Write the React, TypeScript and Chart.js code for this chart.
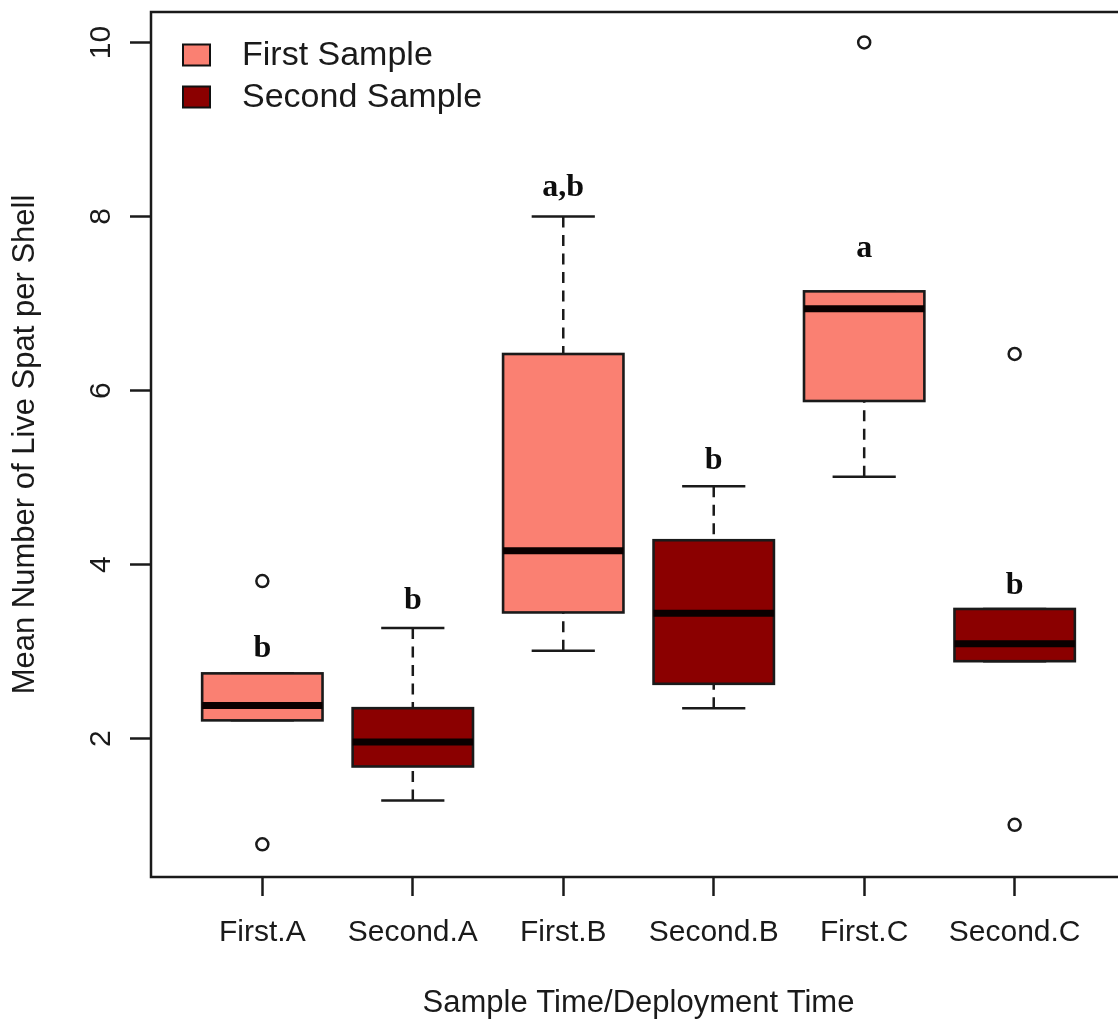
import React, { useEffect, useRef } from 'react';
import { Chart, registerables } from 'chart.js';

Chart.register(...registerables);

// ---- data ----
const categories = ['First.A', 'Second.A', 'First.B', 'Second.B', 'First.C', 'Second.C'];
const seriesOfCategory = [0, 1, 0, 1, 0, 1];
const seriesNames = ['First Sample', 'Second Sample'];
const seriesColors = ['#FA8072', '#8B0000'];

const whiskerLow = [2.21, 1.29, 3.01, 2.35, 5.01, 2.89];
const q1 = [2.21, 1.68, 3.45, 2.63, 5.88, 2.89];
const medians = [2.38, 1.96, 4.16, 3.44, 6.94, 3.09];
const q3 = [2.75, 2.35, 6.42, 4.28, 7.14, 3.49];
const whiskerHigh = [2.75, 3.27, 8.0, 4.9, 7.14, 3.49];
const outliers = [[3.81, 0.785], [], [], [], [10.0], [6.42, 1.01]];

const letters = ['b', 'b', 'a,b', 'b', 'a', 'b'];
const letterY = [2.94, 3.49, 8.24, 5.1, 7.53, 3.66];

const yTicks = [2, 4, 6, 8, 10];
const yTitle = 'Mean Number of Live Spat per Shell';
const xTitle = 'Sample Time/Deployment Time';

// ---- style ----
const SANS = '"Liberation Sans", Arial, sans-serif';
const SERIF = '"Liberation Serif", "Times New Roman", serif';
const INK = '#1a1a1a';
const BOX_WIDTH = 0.8;
const STAPLE_WIDTH = 0.42;

export default function App() {
  const ref = useRef<HTMLCanvasElement>(null);

  useEffect(() => {
    const canvas = ref.current;
    if (!canvas) return;

    const boxPlugin = {
      id: 'boxes',
      beforeDatasetsDraw(chart: any) {
        const { ctx, scales } = chart;
        const x = scales.x;
        const y = scales.y;
        ctx.save();
        categories.forEach((_, i) => {
          const cx = x.getPixelForValue(i + 1);
          const halfBox = (x.getPixelForValue(i + 1 + BOX_WIDTH / 2) - x.getPixelForValue(i + 1 - BOX_WIDTH / 2)) / 2;
          const halfStaple = (x.getPixelForValue(i + 1 + STAPLE_WIDTH / 2) - x.getPixelForValue(i + 1 - STAPLE_WIDTH / 2)) / 2;
          const pLo = y.getPixelForValue(whiskerLow[i]);
          const pQ1 = y.getPixelForValue(q1[i]);
          const pMed = y.getPixelForValue(medians[i]);
          const pQ3 = y.getPixelForValue(q3[i]);
          const pHi = y.getPixelForValue(whiskerHigh[i]);

          // whiskers (dashed)
          ctx.strokeStyle = INK;
          ctx.lineWidth = 2.5;
          ctx.lineCap = 'butt';
          ctx.setLineDash([11, 7.5]);
          ctx.beginPath();
          ctx.moveTo(cx, pHi);
          ctx.lineTo(cx, pQ3);
          ctx.moveTo(cx, pLo);
          ctx.lineTo(cx, pQ1);
          ctx.stroke();
          ctx.setLineDash([]);
          // staples
          ctx.beginPath();
          ctx.moveTo(cx - halfStaple, pHi);
          ctx.lineTo(cx + halfStaple, pHi);
          ctx.moveTo(cx - halfStaple, pLo);
          ctx.lineTo(cx + halfStaple, pLo);
          ctx.stroke();
          // box
          ctx.fillStyle = seriesColors[seriesOfCategory[i]];
          ctx.fillRect(cx - halfBox, pQ3, halfBox * 2, pQ1 - pQ3);
          ctx.lineWidth = 2.6;
          ctx.strokeRect(cx - halfBox, pQ3, halfBox * 2, pQ1 - pQ3);
          // median
          ctx.strokeStyle = '#0a0000';
          ctx.lineWidth = 7;
          ctx.beginPath();
          ctx.moveTo(cx - halfBox, pMed);
          ctx.lineTo(cx + halfBox, pMed);
          ctx.stroke();
        });
        ctx.restore();
      },
      afterDraw(chart: any) {
        const { ctx, scales, chartArea } = chart;
        const x = scales.x;
        const y = scales.y;
        ctx.save();
        // plot frame
        ctx.strokeStyle = INK;
        ctx.lineWidth = 2.5;
        ctx.strokeRect(chartArea.left, chartArea.top, chartArea.right - chartArea.left, chartArea.bottom - chartArea.top);

        // y tick labels (rotated like R's las = 0)
        ctx.fillStyle = INK;
        ctx.font = `30px ${SANS}`;
        ctx.textAlign = 'center';
        ctx.textBaseline = 'alphabetic';
        y.ticks.forEach((t: any) => {
          const py = y.getPixelForValue(t.value);
          ctx.save();
          ctx.translate(y.right - 41, py);
          ctx.rotate(-Math.PI / 2);
          ctx.fillText(String(t.value), 0, 0);
          ctx.restore();
        });

        // significance letters
        ctx.font = `bold 32px ${SERIF}`;
        ctx.fillStyle = '#0d0d0d';
        ctx.textAlign = 'center';
        ctx.textBaseline = 'alphabetic';
        letters.forEach((l, i) => {
          ctx.fillText(l, x.getPixelForValue(i + 1), y.getPixelForValue(letterY[i]));
        });

        // legend (R style, inside top-left)
        const lx = chartArea.left + 32;
        const rows = [chartArea.top + 43, chartArea.top + 85];
        ctx.font = `34px ${SANS}`;
        ctx.textAlign = 'left';
        ctx.textBaseline = 'middle';
        seriesNames.forEach((name, k) => {
          const cy = rows[k];
          ctx.fillStyle = seriesColors[k];
          ctx.fillRect(lx, cy - 10.5, 27, 21);
          ctx.strokeStyle = '#111';
          ctx.lineWidth = 2;
          ctx.strokeRect(lx, cy - 10.5, 27, 21);
          ctx.fillStyle = INK;
          ctx.fillText(name, lx + 59, cy + 1);
        });
        ctx.restore();
      },
    };

    const outlierPoints = outliers.flatMap((arr, i) => arr.map((v) => ({ x: i + 1, y: v })));

    const chart = new Chart(canvas, {
      type: 'scatter',
      data: {
        datasets: [
          {
            label: 'outliers',
            data: outlierPoints,
            pointRadius: 6,
            pointBorderWidth: 2.5,
            pointBorderColor: INK,
            pointBackgroundColor: 'rgba(0,0,0,0)',
            showLine: false,
          },
        ],
      },
      options: {
        responsive: false,
        animation: false,
        devicePixelRatio: 1,
        layout: { padding: { top: 12, right: 34, left: 0, bottom: 0 } },
        plugins: {
          legend: { display: false },
          tooltip: { enabled: false },
          title: { display: false },
        },
        scales: {
          x: {
            type: 'linear',
            position: 'bottom',
            min: 0.26,
            max: 6.74,
            afterBuildTicks: (s: any) => {
              s.ticks = categories.map((_, i) => ({ value: i + 1 }));
            },
            afterFit: (s: any) => {
              s.height = 144;
            },
            grid: {
              display: true,
              drawOnChartArea: false,
              drawTicks: true,
              tickLength: 19,
              tickWidth: 2.5,
              tickColor: INK,
            },
            border: { display: false },
            ticks: {
              autoSkip: false,
              maxRotation: 0,
              minRotation: 0,
              padding: 19,
              color: INK,
              font: { family: SANS, size: 30 },
              callback: (v: any) => categories[Math.round(Number(v)) - 1] ?? '',
            },
            title: {
              display: true,
              text: xTitle,
              color: INK,
              font: { family: SANS, size: 31, lineHeight: 1 },
              padding: { top: 0, bottom: 2 },
            },
          },
          y: {
            type: 'linear',
            min: 0.41,
            max: 10.35,
            afterBuildTicks: (s: any) => {
              s.ticks = yTicks.map((v) => ({ value: v }));
            },
            afterFit: (s: any) => {
              s.width = 151;
            },
            grid: {
              display: true,
              drawOnChartArea: false,
              drawTicks: true,
              tickLength: 21,
              tickWidth: 2.5,
              tickColor: INK,
            },
            border: { display: false },
            ticks: { display: false },
            title: {
              display: true,
              text: yTitle,
              color: INK,
              font: { family: SANS, size: 31, lineHeight: 1.2 },
              padding: { top: 7, bottom: 0 },
            },
          },
        },
      },
      plugins: [boxPlugin],
    } as any);

    return () => {
      chart.destroy();
    };
  }, []);

  return (
    <div
      style={{
        position: 'fixed',
        left: 0,
        top: 0,
        width: 1118,
        height: 1021,
        overflow: 'hidden',
        background: '#fff',
      }}
    >
      <canvas ref={ref} width={1160} height={1021} style={{ display: 'block', width: 1160, height: 1021 }} />
    </div>
  );
}
